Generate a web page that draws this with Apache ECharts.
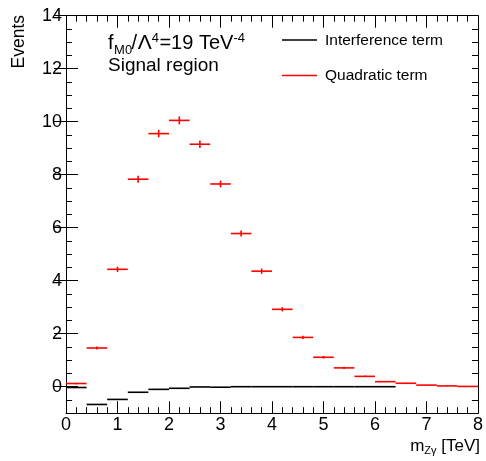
<!DOCTYPE html>
<html>
<head>
<meta charset="utf-8">
<script src="https://cdn.jsdelivr.net/npm/echarts@6/dist/echarts.min.js"></script>
<style>
html,body{margin:0;padding:0;background:#fff;}
#chart{width:486px;height:461px;}
</style>
</head>
<body>
<div id="chart"></div>
<script>
// ---- data ----
const binLow  = [0.0,0.4,0.8,1.2,1.6,2.0,2.4,2.8,3.2,3.6,4.0,4.4,4.8,5.2,5.6,6.0,6.4,6.8,7.2,7.6];
const binHigh = [0.4,0.8,1.2,1.6,2.0,2.4,2.8,3.2,3.6,4.0,4.4,4.8,5.2,5.6,6.0,6.4,6.8,7.2,7.6,8.0];
const quadratic = [0.12,1.46,4.43,7.83,9.55,10.05,9.15,7.65,5.78,4.36,2.92,1.86,1.11,0.71,0.39,0.19,0.13,0.06,0.03,0.01];
const quadErr   = [0.03,0.06,0.10,0.13,0.14,0.15,0.14,0.13,0.11,0.10,0.08,0.06,0.05,0.04,0.03,0.02,0.02,0.01,0.01,0.01];
const interference = [-0.03,-0.67,-0.48,-0.21,-0.10,-0.06,-0.01,-0.02,0.0,0.0,0.0,0.0,0.0,0.0,0.0,0.0];
const xTicks = [0,1,2,3,4,5,6,7,8];
const yMajorTicks = [0,2,4,6,8,10,12,14];

const FONT = '"Liberation Sans", Arial, Helvetica, sans-serif';

const quadData = quadratic.map((v,i)=>[binLow[i],binHigh[i],v,quadErr[i]]);
const intData = interference.map((v,i)=>[binLow[i],binHigh[i],v,0]);

function binRenderer(color, withErr){
  return function(params, api){
    const lo=api.value(0), hi=api.value(1), v=api.value(2), e=api.value(3);
    const a=api.coord([lo,v]), b=api.coord([hi,v]);
    const children=[{type:'line',shape:{x1:a[0],y1:a[1],x2:b[0],y2:b[1]},style:{stroke:color,lineWidth:1.6}}];
    if(withErr && e>0){
      const m=(lo+hi)/2;
      const p=api.coord([m,v-e]), q=api.coord([m,v+e]);
      children.push({type:'line',shape:{x1:p[0],y1:p[1],x2:q[0],y2:q[1]},style:{stroke:color,lineWidth:1.6}});
    }
    return {type:'group',children};
  };
}

// text helpers
const cv=document.createElement('canvas').getContext('2d');
function tw(t,size){cv.font=size+'px '+FONT;return cv.measureText(t).width;}
const ASC=0.847; // baseline offset from top for verticalAlign:'top'
function txt(t,x,baseY,size,extra){
  return Object.assign({type:'text',x:x,y:baseY-ASC*size,style:{text:t,font:size+'px '+FONT,fill:'#000',align:'left',verticalAlign:'top'}},extra||{});
}
function runText(parts, x0, baseY){
  const els=[]; let x=x0;
  parts.forEach(p=>{
    els.push(txt(p.t,x,baseY+(p.dy||0),p.s));
    x+=tw(p.t,p.s)+(p.gap||0);
  });
  return {els, width:x-x0};
}
const xtParts=[{t:'m',s:17},{t:'Z\u03b3',s:11,dy:3},{t:' [TeV]',s:17}];
let tmp=runText(xtParts,0,0);
const xTitle=runText(xtParts,480-tmp.width,452).els;
const annParts=[
  {t:'f',s:20,gap:0.5},{t:'M0',s:13,dy:4,gap:-0.5},{t:'/',s:20,gap:0.5},{t:'\u039b',s:21},
  {t:'4',s:13,dy:-8,gap:0.5},{t:'=19 TeV',s:20},{t:'-4',s:13,dy:-8}];
const ann=runText(annParts,108,50.5).els;

const chart=echarts.init(document.getElementById('chart'),null,{renderer:'canvas'});

const xBase={type:'value',min:0,max:8,interval:1,
  axisLine:{show:true,onZero:false,lineStyle:{color:'#000',width:1}},
  axisTick:{show:true,inside:true,length:12,lineStyle:{color:'#000',width:1}},
  minorTick:{show:true,splitNumber:5,length:6,lineStyle:{color:'#000',width:1}},
  splitLine:{show:false},minorSplitLine:{show:false}};
const yMinor={type:'value',min:-1,max:14,interval:0.5,
  axisLine:{show:true,onZero:false,lineStyle:{color:'#000',width:1}},
  axisTick:{show:true,inside:true,length:6,lineStyle:{color:'#000',width:1}},
  splitLine:{show:false}};
const yMajor={type:'value',min:-1,max:14,interval:0.5,offset:0,
  axisLine:{show:false},
  axisTick:{show:true,inside:true,length:12,customValues:yMajorTicks,lineStyle:{color:'#000',width:1}},
  axisLabel:{show:false},splitLine:{show:false}};

chart.setOption({
  animation:false,
  backgroundColor:'#fff',
  grid:{left:66,right:6,top:15.7,bottom:47.8,containLabel:false},
  xAxis:[
    Object.assign({},xBase,{position:'bottom',axisLabel:{show:true,color:'#000',fontSize:18,fontFamily:FONT,margin:3,customValues:xTicks}}),
    Object.assign({},xBase,{position:'top',axisLabel:{show:false}})
  ],
  yAxis:[
    Object.assign({},yMinor,{position:'left',offset:0,axisLabel:{show:true,color:'#000',fontSize:18,fontFamily:FONT,margin:4,customValues:yMajorTicks,
      formatter:v=>(v>=0 && Math.abs(v%2)<1e-9)?String(v):''}}),
    Object.assign({},yMajor,{position:'left'}),
    Object.assign({},yMinor,{position:'right',offset:0,axisLabel:{show:false}}),
    Object.assign({},yMajor,{position:'right'})
  ],
  series:[
    {type:'custom',name:'Interference term',xAxisIndex:0,yAxisIndex:0,renderItem:binRenderer('#000',false),data:intData,encode:{x:[0,1],y:2},clip:false,z:3},
    {type:'custom',name:'Quadratic term',xAxisIndex:0,yAxisIndex:0,renderItem:binRenderer('#ff0000',true),data:quadData,encode:{x:[0,1],y:2},clip:false,z:4}
  ],
  graphic:[
    {type:'text',x:28,y:15,rotation:Math.PI/2,style:{text:'Events',font:'17.5px '+FONT,fill:'#000',align:'right',verticalAlign:'bottom'}},
    ...xTitle,
    ...ann,
    txt('Signal region',108,72.7,19),
    {type:'line',shape:{x1:282,y1:40,x2:317,y2:40},style:{stroke:'#000',lineWidth:1.6}},
    txt('Interference term',325,45.5,15.5),
    {type:'line',shape:{x1:282,y1:75.5,x2:317,y2:75.5},style:{stroke:'#ff0000',lineWidth:1.6}},
    txt('Quadratic term',325,80.5,15.5)
  ]
});
</script>
</body>
</html>
